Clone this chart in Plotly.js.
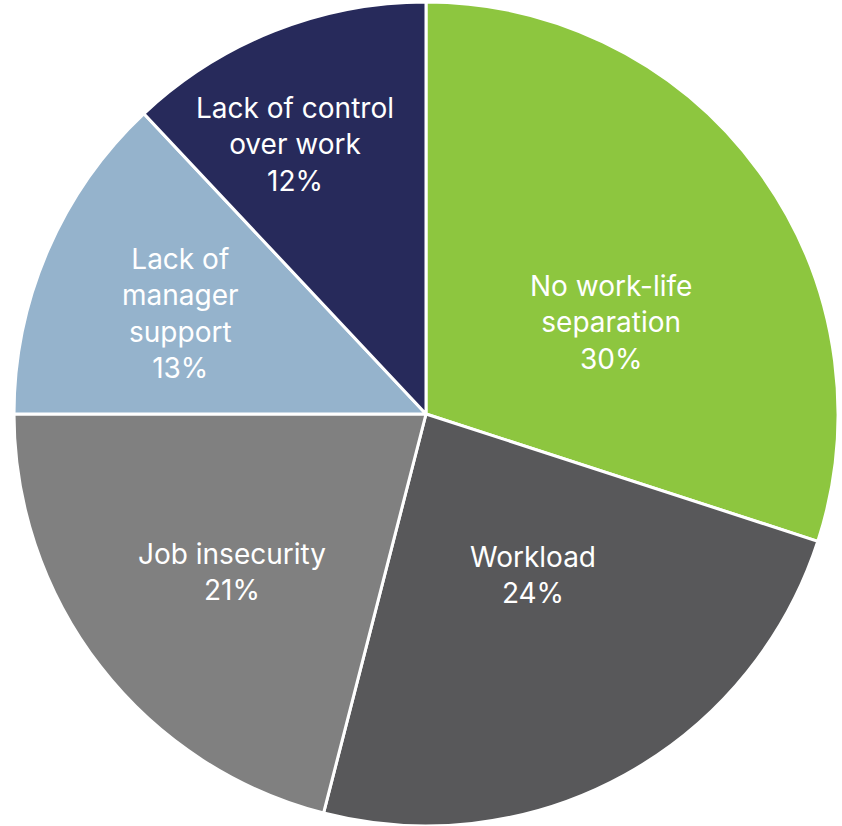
<!DOCTYPE html>
<html>
<head>
<meta charset="utf-8">
<script src="https://cdn.plot.ly/plotly-3.0.1.min.js"></script>
<style>html,body{margin:0;padding:0;background:#fff;}#chart{width:842px;height:826px;}</style>
</head>
<body>
<div id="chart"></div>
<script>
const categories = ["No work-life separation", "Workload", "Job insecurity", "Lack of manager support", "Lack of control over work"];
const displayLabels = ["No work-life<br>separation", "Workload", "Job insecurity", "Lack of<br>manager<br>support", "Lack of control<br>over work"];
const shares = [30, 24, 21, 13, 12];
const colors = ["#8DC63F", "#58585A", "#808080", "#95B3CC", "#272A5B"];

// label placement style (radial fraction of radius, angle tweak in degrees)
const labelRadius = [0.50, 0.47, 0.607, 0.645, 0.728];
const labelAngleTweak = [9.6, -4.8, -1.4, -1.1, -4.3];
const labelFont = {family: "Inter, 'Open Sans', sans-serif", size: 28, color: "#ffffff"};

const W = 842, H = 826;
const margin = {l: 10, r: 0, t: 2, b: 0};
const plotW = W - margin.l - margin.r, plotH = H - margin.t - margin.b;
const R = Math.min(plotW, plotH) / 2;

const total = shares.reduce((a, b) => a + b, 0);
let cum = 0;
const annotations = shares.map((v, i) => {
  const mid = (cum + v / 2) / total * 360 + labelAngleTweak[i];
  cum += v;
  const th = mid * Math.PI / 180;
  const dx = Math.sin(th) * R * labelRadius[i];
  const dy = -Math.cos(th) * R * labelRadius[i];
  return {
    x: 0.5 + dx / plotW,
    y: 0.5 - dy / plotH,
    xref: "paper", yref: "paper",
    xanchor: "center", yanchor: "middle",
    align: "center",
    showarrow: false,
    text: displayLabels[i] + "<br>" + Math.round(v / total * 100) + "%",
    font: labelFont
  };
});

const trace = {
  type: "pie",
  labels: categories,
  values: shares,
  sort: false,
  direction: "clockwise",
  rotation: 0,
  marker: {colors: colors, line: {color: "#ffffff", width: 3}},
  textinfo: "none",
  hoverinfo: "label+percent",
  showlegend: false
};

const layout = {
  width: W, height: H,
  margin: margin,
  paper_bgcolor: "#ffffff",
  showlegend: false,
  annotations: annotations
};

Plotly.newPlot("chart", [trace], layout, {displayModeBar: false, staticPlot: true});
</script>
</body>
</html>
